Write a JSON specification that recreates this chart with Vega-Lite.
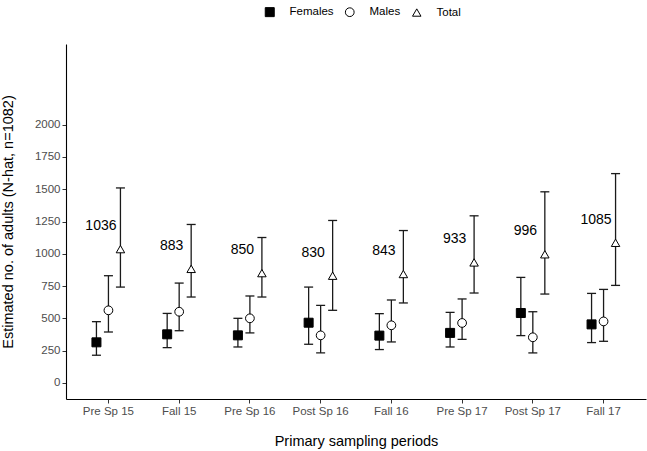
{
  "$schema": "https://vega.github.io/schema/vega-lite/v6.json",
  "width": 580,
  "height": 355,
  "autosize": {"type": "none"},
  "padding": {"left": 66, "top": 44, "right": 1, "bottom": 52},
  "background": "white",
  "config": {
    "font": "Liberation Sans",
    "view": {"stroke": null},
    "axis": {"grid": false, "domainColor": "black", "domainWidth": 1.1, "tickColor": "#333333", "tickSize": 4, "labelColor": "#4d4d4d", "labelFontSize": 11.5, "titleFontSize": 14.5, "titleFontWeight": "normal", "titleColor": "black", "labelPadding": 2}
  },
  "data": {
    "values": [
      {"period": "Pre Sp 15", "sex": "Females", "est": 314, "lo": 214, "hi": 474},
      {"period": "Pre Sp 15", "sex": "Males", "est": 562, "lo": 394, "hi": 830},
      {"period": "Pre Sp 15", "sex": "Total", "est": 1036, "lo": 742, "hi": 1510},
      {"period": "Fall 15", "sex": "Females", "est": 376, "lo": 273, "hi": 538},
      {"period": "Fall 15", "sex": "Males", "est": 551, "lo": 404, "hi": 773},
      {"period": "Fall 15", "sex": "Total", "est": 883, "lo": 665, "hi": 1227},
      {"period": "Pre Sp 16", "sex": "Females", "est": 368, "lo": 278, "hi": 500},
      {"period": "Pre Sp 16", "sex": "Males", "est": 500, "lo": 387, "hi": 673},
      {"period": "Pre Sp 16", "sex": "Total", "est": 850, "lo": 665, "hi": 1126},
      {"period": "Post Sp 16", "sex": "Females", "est": 466, "lo": 299, "hi": 742},
      {"period": "Post Sp 16", "sex": "Males", "est": 368, "lo": 232, "hi": 600},
      {"period": "Post Sp 16", "sex": "Total", "est": 830, "lo": 562, "hi": 1258},
      {"period": "Fall 16", "sex": "Females", "est": 366, "lo": 258, "hi": 536},
      {"period": "Fall 16", "sex": "Males", "est": 446, "lo": 317, "hi": 642},
      {"period": "Fall 16", "sex": "Total", "est": 843, "lo": 619, "hi": 1180},
      {"period": "Pre Sp 17", "sex": "Females", "est": 387, "lo": 278, "hi": 546},
      {"period": "Pre Sp 17", "sex": "Males", "est": 464, "lo": 337, "hi": 650},
      {"period": "Pre Sp 17", "sex": "Total", "est": 933, "lo": 696, "hi": 1294},
      {"period": "Post Sp 17", "sex": "Females", "est": 541, "lo": 366, "hi": 817},
      {"period": "Post Sp 17", "sex": "Males", "est": 353, "lo": 232, "hi": 551},
      {"period": "Post Sp 17", "sex": "Total", "est": 996, "lo": 688, "hi": 1480},
      {"period": "Fall 17", "sex": "Females", "est": 453, "lo": 312, "hi": 693},
      {"period": "Fall 17", "sex": "Males", "est": 476, "lo": 322, "hi": 724},
      {"period": "Fall 17", "sex": "Total", "est": 1085, "lo": 755, "hi": 1621}
    ]
  },
  "encoding": {
    "x": {
      "field": "period", "type": "nominal",
      "sort": ["Pre Sp 15", "Fall 15", "Pre Sp 16", "Post Sp 16", "Fall 16", "Pre Sp 17", "Post Sp 17", "Fall 17"],
      "scale": {"type": "band", "paddingInner": 0.491, "paddingOuter": 0.3455},
      "axis": {"title": "Primary sampling periods", "labelAngle": 0, "titlePadding": 18}
    },
    "xOffset": {
      "field": "sex", "type": "nominal",
      "sort": ["Females", "Males", "Total"]
    }
  },
  "layer": [
    {
      "mark": {"type": "rule", "color": "#1a1a1a", "strokeWidth": 1.3},
      "encoding": {
        "y": {"field": "lo", "type": "quantitative", "scale": {"domain": [-125, 2625], "nice": false, "zero": false},
          "axis": {"title": "Estimated no. of adults (N-hat, n=1082)", "values": [0, 250, 500, 750, 1000, 1250, 1500, 1750, 2000], "format": "d", "titlePadding": 19}},
        "y2": {"field": "hi"}
      }
    },
    {
      "mark": {"type": "tick", "color": "#1a1a1a", "thickness": 1.3, "size": 9, "opacity": 1},
      "encoding": {"y": {"field": "lo", "type": "quantitative"}}
    },
    {
      "mark": {"type": "tick", "color": "#1a1a1a", "thickness": 1.3, "size": 9, "opacity": 1},
      "encoding": {"y": {"field": "hi", "type": "quantitative"}}
    },
    {
      "mark": {"type": "point", "stroke": "black", "strokeWidth": 1, "opacity": 1, "filled": false},
      "encoding": {
        "y": {"field": "est", "type": "quantitative"},
        "shape": {"field": "sex", "type": "nominal", "scale": {"domain": ["Females", "Males", "Total"], "range": ["square", "circle", "triangle-up"]},
          "legend": {"title": null, "orient": "none", "legendX": 198, "legendY": -38, "direction": "horizontal", "labelFontSize": 11.5, "labelColor": "black", "symbolStrokeColor": "black", "labelOffset": 14, "columnPadding": 9, "symbolStrokeWidth": 1}},
        "fill": {"field": "sex", "type": "nominal", "scale": {"domain": ["Females", "Males", "Total"], "range": ["black", "white", "white"]}},
        "size": {"field": "sex", "type": "nominal", "scale": {"domain": ["Females", "Males", "Total"], "range": [81, 72, 130]}}
      }
    },
    {
      "transform": [{"filter": "datum.sex === 'Total'"}],
      "mark": {"type": "text", "fontSize": 14, "dx": -19.5, "dy": -23, "align": "center", "baseline": "middle", "color": "black"},
      "encoding": {
        "y": {"field": "est", "type": "quantitative"},
        "text": {"field": "est", "type": "quantitative"}
      }
    }
  ]
}
